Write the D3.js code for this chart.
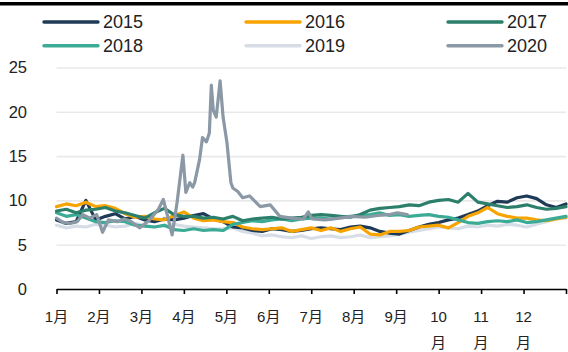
<!DOCTYPE html>
<html>
<head>
<meta charset="utf-8">
<script src="https://cdn.jsdelivr.net/npm/d3@7"></script>
<style>
  body { margin: 0; background: #fff; }
  svg { display: block; }
  text { font-family: "Liberation Sans", Arial, "Noto Sans CJK SC", sans-serif; fill: #222; }
</style>
</head>
<body>
<svg id="chart" width="568" height="352"></svg>
<script>
// Series names and colours
const years = ["2015", "2016", "2017", "2018", "2019", "2020"];
const colors = ["#1f3a56", "#f7a400", "#2b7f6b", "#3cab95", "#d6dde7", "#8b98a5"];

// Axis ticks
const yTicks = [0, 5, 10, 15, 20, 25];
const monthNums = ["1", "2", "3", "4", "5", "6", "7", "8", "9", "10", "11", "12"];

// Weekly readings (week 0 … 52) for the full years
const v2015 = [7.8, 7.4, 7.6, 10.0, 7.8, 8.2, 8.5, 7.9, 8.2, 7.8, 7.6, 7.9, 7.8, 8.0, 8.3, 8.5, 7.9,
  7.6, 7.0, 6.9, 6.6, 6.5, 6.8, 6.7, 6.5, 6.6, 6.8, 6.9, 6.8, 6.7, 7.0, 7.1, 6.9, 6.5, 6.3, 6.2,
  6.6, 7.0, 7.3, 7.5, 7.8, 8.0, 8.4, 8.8, 9.4, 9.9, 9.8, 10.3, 10.5, 10.2, 9.5, 9.2, 9.6];
const v2016 = [9.3, 9.6, 9.4, 9.8, 9.3, 9.4, 9.1, 8.5, 8.1, 8.2, 7.9, 7.8, 8.3, 8.7, 8.0, 7.7, 7.8,
  7.6, 7.5, 7.0, 6.8, 6.7, 6.8, 6.9, 6.5, 6.7, 6.9, 6.6, 6.9, 6.5, 6.8, 7.0, 6.2, 6.1, 6.5, 6.5,
  6.6, 7.0, 7.1, 7.2, 6.9, 7.5, 8.2, 8.6, 9.2, 8.5, 8.2, 8.0, 8.0, 7.8, 7.7, 7.9, 8.1];
const v2017 = [8.8, 9.0, 8.6, 8.9, 9.0, 9.2, 8.8, 8.6, 8.3, 8.0, 8.6, 9.1, 8.4, 8.2, 8.2, 8.0, 8.1,
  7.9, 8.2, 7.7, 7.9, 8.0, 8.1, 7.9, 8.0, 8.1, 8.3, 8.4, 8.3, 8.2, 8.1, 8.4, 8.9, 9.1, 9.2, 9.3,
  9.5, 9.4, 9.8, 10.0, 10.1, 9.8, 10.8, 9.8, 9.6, 9.4, 9.2, 9.3, 9.5, 9.2, 9.0, 9.1, 9.3];
const v2018 = [8.6, 8.2, 8.4, 8.0, 7.6, 7.5, 7.7, 7.6, 7.2, 7.1, 7.0, 7.2, 6.7, 6.6, 6.8, 6.6, 6.7,
  6.6, 7.3, 7.5, 7.7, 7.6, 7.8, 7.9, 7.7, 7.9, 8.0, 8.0, 7.9, 8.1, 8.2, 8.3, 8.4, 8.6, 8.3, 8.4,
  8.2, 8.3, 8.4, 8.2, 8.1, 7.8, 7.5, 7.4, 7.6, 7.7, 7.6, 7.8, 7.5, 7.6, 7.8, 8.0, 8.2];
const v2019 = [7.2, 6.9, 7.1, 7.0, 7.3, 7.2, 7.0, 7.1, 7.4, 7.2, 7.0, 7.1, 7.3, 7.1, 7.0, 6.9, 6.8,
  6.8, 6.9, 6.5, 6.3, 6.0, 6.1, 5.9, 5.8, 6.0, 5.7, 5.9, 6.0, 5.8, 5.9, 6.1, 5.8, 5.9, 6.0, 6.2,
  6.4, 6.6, 6.8, 7.0, 6.9, 6.8, 7.1, 7.0, 7.2, 7.1, 7.3, 7.2, 7.0, 7.3, 7.6, 7.9, 8.0];

// 2020 runs only to early October and is read more finely around the spring spike
const weeks2020 = [0, 0.7, 1.4, 2.1, 2.7, 3.4, 4.1, 4.7, 5.3, 6.2, 6.9, 7.5, 8.5, 9.5, 10.4, 10.9,
  11.3, 11.8, 12.3, 12.9, 13.2, 13.6, 13.9, 14.1, 14.6, 14.9, 15.3, 15.6, 15.8, 16.0, 16.3, 16.7,
  17.0, 17.4, 17.8, 18.0, 18.5, 19.0, 19.7, 20.8, 21.8, 22.8, 24.0, 25.2, 25.7, 26.1, 27.4, 28.9,
  30.2, 31.5, 32.8, 34.0, 34.8, 35.8];
const v2020 = [8.0, 7.5, 7.4, 7.6, 8.4, 8.0, 8.4, 6.4, 7.8, 7.6, 7.9, 7.7, 6.9, 7.8, 9.0, 10.1,
  8.4, 6.1, 9.7, 15.1, 10.9, 12.0, 11.5, 12.0, 14.6, 17.1, 16.6, 17.6, 23.0, 20.2, 19.4, 23.5,
  19.4, 16.5, 12.0, 11.4, 11.0, 10.3, 10.5, 9.3, 9.5, 8.2, 8.0, 7.9, 8.7, 7.9, 7.8, 8.0,
  8.2, 8.1, 8.3, 8.4, 8.6, 8.4];

const fullWeeks = d3.range(53);
const seriesData = {
  "2015": fullWeeks.map((w, i) => [w, v2015[i]]),
  "2016": fullWeeks.map((w, i) => [w, v2016[i]]),
  "2017": fullWeeks.map((w, i) => [w, v2017[i]]),
  "2018": fullWeeks.map((w, i) => [w, v2018[i]]),
  "2019": fullWeeks.map((w, i) => [w, v2019[i]]),
  "2020": weeks2020.map((w, i) => [w, v2020[i]])
};

const svg = d3.select("#chart");
const x0 = 56.5, x1 = 566;
const x = d3.scaleLinear().domain([0, 52]).range([x0, x1]);
const xm = d3.scaleLinear().domain([0, 12]).range([x0, x1]);
const y = d3.scaleLinear().domain([0, 25]).range([289, 67.5]);

// Top rule
svg.append("rect").attr("x", 0).attr("y", 2).attr("width", 568).attr("height", 3.5).attr("fill", "#000");

// Horizontal gridlines
const grid = svg.append("g").attr("transform", `translate(${x0},0)`)
  .call(d3.axisLeft(y).tickValues(yTicks).tickSize(-(x1 - x0)).tickFormat(""));
grid.select(".domain").remove();
grid.selectAll(".tick line").attr("stroke", "#e9e9e9").attr("stroke-width", 1.6);

// Y labels
svg.append("g").selectAll("text").data(yTicks).join("text")
  .attr("x", 27).attr("y", d => y(d)).attr("dy", "0.36em")
  .attr("text-anchor", "end").style("font-size", "16.5px").text(d => d);

// Lines
const line = d3.line().x(d => x(d[0])).y(d => y(d[1]));
const drawOrder = ["2019", "2015", "2016", "2018", "2017", "2020"];
svg.append("g").selectAll("path").data(drawOrder).join("path")
  .attr("d", k => line(seriesData[k]))
  .attr("fill", "none")
  .attr("stroke", k => colors[years.indexOf(k)])
  .attr("stroke-width", 3.2)
  .attr("stroke-linejoin", "round")
  .attr("stroke-linecap", "round");

// X axis
const xAxis = svg.append("g").attr("transform", `translate(0,${y(0)})`)
  .call(d3.axisBottom(xm).tickValues(d3.range(13)).tickSize(5).tickSizeOuter(0).tickFormat(""));
xAxis.select(".domain").attr("stroke", "#000").attr("stroke-width", 1.6);
xAxis.selectAll(".tick line").attr("stroke", "#000").attr("stroke-width", 1.6);

// Month labels; two-digit months wrap onto a second line
const mLab = svg.append("g").selectAll("text").data(monthNums).join("text")
  .attr("x", (d, i) => xm(i)).attr("y", 322)
  .attr("text-anchor", "middle").style("font-size", "15px");
mLab.each(function(d) {
  const t = d3.select(this);
  if (d.length > 1) {
    t.append("tspan").attr("x", t.attr("x")).text(d);
    t.append("tspan").attr("x", t.attr("x")).attr("dy", 26).text("月");
  } else {
    t.text(d + "月");
  }
});

// Legend
const legend = svg.append("g").selectAll("g").data(years).join("g")
  .attr("transform", (d, i) => `translate(${44 + (i % 3) * 202},${i < 3 ? 22 : 45.7})`);
legend.append("line").attr("x1", 0).attr("x2", 54).attr("y1", 0).attr("y2", 0)
  .attr("stroke", (d, i) => colors[i]).attr("stroke-width", 3.4).attr("stroke-linecap", "round");
legend.append("text").attr("x", 59).attr("y", 0).attr("dy", "0.36em")
  .style("font-size", "18px").text(d => d);
</script>
</body>
</html>
